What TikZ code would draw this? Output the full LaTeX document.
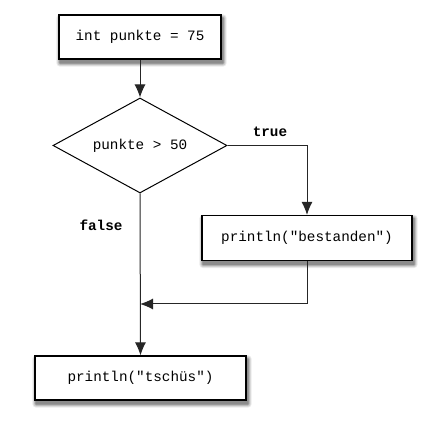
\documentclass[tikz,border=0pt]{standalone}
\usepackage{fontspec}
\setmonofont{Liberation Mono}
\usetikzlibrary{shapes.geometric,arrows.meta}
\pgfdeclarelayer{background}
\pgfsetlayers{background,main}
\newcommand\softshadow[1]{%
  \foreach \g/\e in {8/3.5,18/2.5,30/1.5,45/0.5}{%
    \fill[black!\g,rounded corners=\e pt] ([shift={(1.5-\e,-3.5-\e)}]#1.south west) rectangle ([shift={(1.5+\e,-3.5+\e)}]#1.north east);}}
\begin{document}
\begin{tikzpicture}[x=1pt,y=1pt,
  procbox/.style={draw=black,line width=1.2pt,fill=white,inner sep=0pt,
    font=\ttfamily\fontsize{14.3}{16}\selectfont},
  decbox/.style={draw=black,line width=1pt,fill=white,diamond,aspect=1.83,inner sep=0pt,
    minimum width=174pt,minimum height=95pt,
    font=\ttfamily\fontsize{14.3}{16}\selectfont},
  lbl/.style={font=\ttfamily\bfseries\fontsize{14.3}{16}\selectfont,inner sep=0pt},
  conn/.style={draw=black!85,line width=1pt,-{Latex[length=13pt,width=11pt]}}]
\useasboundingbox (0,0) rectangle (445,-427);
\node[procbox,minimum width=162pt,minimum height=44pt] (a) at (140,-37) {int punkte = 75};
\node[decbox] (d) at (140,-145.5) {punkte > 50};
\node[procbox,minimum width=210pt,minimum height=45pt] (b) at (307,-238) {println("bestanden")};
\node[procbox,minimum width=211pt,minimum height=44pt] (c) at (140.5,-378) {println("tschüs")};
\node[lbl] (t) at (270,-132) {true};
\node[lbl] (f) at (101,-225) {false};
\coordinate (m) at (140,-304);
\begin{pgfonlayer}{background}
\softshadow{a}
\softshadow{b}
\softshadow{c}
\end{pgfonlayer}
\draw[conn] (a) -- (d);
\draw[conn] (d.east) -| (b.north);
\draw[conn] (b.south) |- (m);
\draw[conn] (d.south) -- (c.north);
\end{tikzpicture}
\end{document}
